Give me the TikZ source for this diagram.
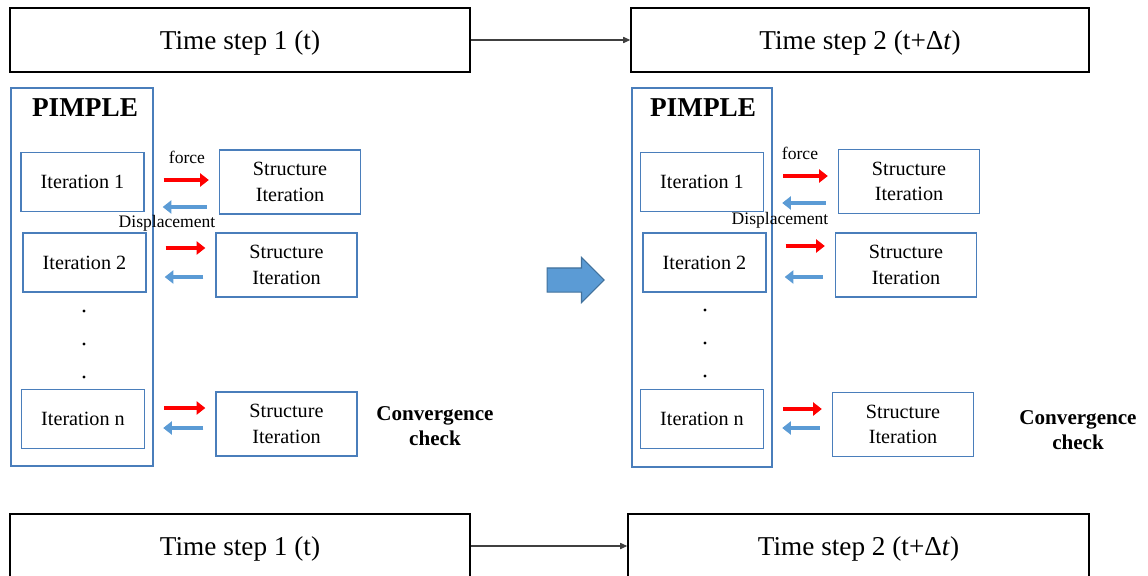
\documentclass[tikz,border=0pt]{standalone}
\usepackage{fontspec}
\setmainfont{Liberation Serif}
\usepackage{tikz}
\usetikzlibrary{arrows.meta,shapes.arrows,calc}
\definecolor{cBox}{HTML}{4A7EBB}
\definecolor{cBlue}{HTML}{5B9BD5}
\definecolor{cBlueD}{HTML}{41719C}
\definecolor{cRed}{HTML}{FF0000}
\definecolor{cLine}{HTML}{404040}
\tikzset{
  tbox/.style  = {rectangle, draw=black, line width=0.9pt, inner sep=0pt, text depth=0pt,
                  minimum height=1.28cm, font=\fontsize{15.5}{18}\selectfont},
  pim/.style   = {rectangle, draw=cBox, line width=0.8pt, inner sep=0pt},
  itbox/.style = {rectangle, draw=cBox, line width=0.8pt, inner sep=0pt,
                  minimum width=2.46cm, minimum height=1.18cm,
                  font=\fontsize{11.5}{14}\selectfont},
  sbox/.style  = {rectangle, draw=cBox, line width=0.8pt, inner sep=0pt,
                  minimum width=2.82cm, minimum height=1.28cm, align=center,
                  font=\fontsize{11.5}{14.5}\selectfont},
  fwd/.style   = {-{Triangle[length=5pt,width=7.5pt]}, draw=cRed, line width=2.2pt,
                  shorten <=0.38cm, shorten >=0.2cm},
  bwd/.style   = {-{Triangle[length=5pt,width=7.5pt]}, draw=cBlue, line width=2.2pt,
                  shorten <=0.24cm, shorten >=0.36cm},
  tl/.style    = {-{Triangle[length=4pt,width=3.5pt]}, draw=cLine, line width=0.6pt},
  lab/.style   = {font=\fontsize{10}{12}\selectfont, inner sep=0pt},
  ttl/.style   = {font=\fontsize{15.5}{18}\selectfont\bfseries, inner sep=0pt},
  conv/.style  = {align=center, inner sep=0pt, font=\fontsize{12}{14.5}\selectfont\bfseries},
}

\begin{document}
\begin{tikzpicture}[x=0.02cm, y=-0.02cm]
  \useasboundingbox (0,0) rectangle (1148,575);
  \clip (0,0) rectangle (1148,575);

  % time steps
  \node[tbox, minimum width=9.2cm]  (ts1) at (240,40)    {Time step 1 (t)};
  \node[tbox, minimum width=9.16cm] (ts2) at (860,40)    {Time step 2 (t+Δ\textit{t})};
  \node[tbox, minimum width=9.2cm]  (tb1) at (240,546)   {Time step 1 (t)};
  \node[tbox, minimum width=9.22cm] (tb2) at (858.5,546) {Time step 2 (t+Δ\textit{t})};
  \draw[tl] (ts1) -- (ts2);
  \draw[tl] (tb1) -- (tb2);

  % left PIMPLE loop
  \node[pim, minimum width=2.84cm, minimum height=7.56cm] (pl) at (82,277) {};
  \node[ttl] (pt) at (85,108) {PIMPLE};
  \node[itbox] (i1) at (82.5,182)   {Iteration 1};
  \node[itbox] (i2) at (84.5,262.5) {Iteration 2};
  \node[itbox] (i3) at (83,419)     {Iteration n};
  \node[sbox] (s1) at (290,182)     {Structure\\Iteration};
  \node[sbox] (s2) at (286.5,265)   {Structure\\Iteration};
  \node[sbox] (s3) at (286.5,424)   {Structure\\Iteration};
  \foreach \a/\b/\r/\l in {i1/s1/-2/25, i2/s2/-14.5/14.5, i3/s3/-11/9} {
    \draw[fwd] ($(\a.east)+(0,\r)$) -- ($(\a.east -| \b.west)+(0,\r)$);
    \draw[bwd] ($(\a.east -| \b.west)+(0,\l)$) -- ($(\a.east)+(0,\l)$);
  }
  \node[lab] (f1) at (187,157) {force};
  \node[lab] (d1) at (167,223) {Displacement};
  \foreach \y in {311,344,377}
    \fill (84,\y) circle[radius=0.9pt];
  \node[conv] (c1) at (435,426) {Convergence\\check};

  % block arrow
  \node[single arrow, fill=cBlue, draw=cBlueD, line width=0.6pt, inner xsep=0pt,
        inner ysep=0.23cm, minimum height=1.14cm, single arrow head extend=0.21cm,
        single arrow tip angle=90] (big) at (569.5,280) {};

  % right PIMPLE loop
  \node[pim, minimum width=2.8cm, minimum height=7.58cm] (pr) at (702,277.5) {};
  \node[ttl] (qt) at (703,108) {PIMPLE};
  \node[itbox] (j1) at (702,182)    {Iteration 1};
  \node[itbox] (j2) at (704.5,262.5) {Iteration 2};
  \node[itbox] (j3) at (702,419)    {Iteration n};
  \node[sbox] (t1) at (909,181.5)   {Structure\\Iteration};
  \node[sbox] (t2) at (906,265)     {Structure\\Iteration};
  \node[sbox] (t3) at (903,424.5)   {Structure\\Iteration};
  \foreach \a/\b/\r/\l in {j1/t1/-6/21, j2/t2/-16.5/14.5, j3/t3/-10/9} {
    \draw[fwd] ($(\a.east)+(0,\r)$) -- ($(\a.east -| \b.west)+(0,\r)$);
    \draw[bwd] ($(\a.east -| \b.west)+(0,\l)$) -- ($(\a.east)+(0,\l)$);
  }
  \node[lab] (f2) at (800,153) {force};
  \node[lab] (d2) at (780,220) {Displacement};
  \foreach \y in {310,343,376}
    \fill (705,\y) circle[radius=0.9pt];
  \node[conv] (c2) at (1078,430) {Convergence\\check};
\end{tikzpicture}
\end{document}
